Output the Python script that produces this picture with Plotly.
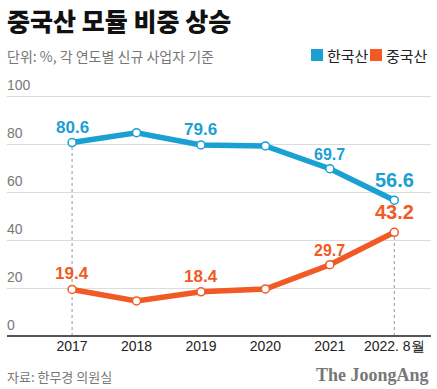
import plotly.graph_objects as go

years = ["2017", "2018", "2019", "2020", "2021", "2022. 8월"]
korea = [80.6, 84.7, 79.6, 79.2, 69.7, 56.6]
china = [19.4, 14.6, 18.4, 19.6, 29.7, 43.2]
korea_labels = ["80.6", "", "79.6", "", "69.7", "56.6"]
china_labels = ["19.4", "", "18.4", "", "29.7", "43.2"]
label_sizes = [17, 0, 17, 0, 16, 20]
yticks = [0, 20, 40, 60, 80, 100]

BLUE = "#1aa0d3"
ORANGE = "#f15a24"
KFONT = "Noto Sans CJK KR"
NFONT = "Liberation Sans, Arial, sans-serif"

xs = list(range(len(years)))

W, H = 437, 389
# plot area x 7..431, y 95..336
L, R, T, B = 7, 6, 95, 53
pw, ph = W - L - R, H - T - B
def ax(xp):
    return (xp - L) / pw
def ay(yp):
    return (H - B - yp) / ph

fig = go.Figure()
for vals, col, name in [(korea, BLUE, "한국산"), (china, ORANGE, "중국산")]:
    fig.add_trace(go.Scatter(
        x=xs, y=vals, mode="lines+markers", name=name,
        line=dict(color=col, width=5.5),
        marker=dict(size=8, color="white", line=dict(color=col, width=1.5)),
        cliponaxis=False, showlegend=False, hoverinfo="skip"))

# value labels
for vals, labels, col in [(korea, korea_labels, BLUE), (china, china_labels, ORANGE)]:
    for i, (v, t) in enumerate(zip(vals, labels)):
        if t:
            fig.add_annotation(x=xs[i], y=v, text=t, showarrow=False,
                               yanchor="bottom", yshift=4 if label_sizes[i] < 20 else 7,
                               font=dict(family=NFONT, size=label_sizes[i], color=col, weight="bold"))

# y tick labels above gridlines
for t in yticks:
    fig.add_annotation(x=0, xref="paper", y=t, yref="y", text=str(t), showarrow=False,
                       xanchor="left", yanchor="bottom", yshift=1, xshift=-2,
                       font=dict(family=NFONT, size=14, color="#777"))

# dotted guide lines
fig.add_shape(type="line", x0=xs[0], x1=xs[0], y0=0, y1=korea[0], xref="x", yref="y",
              line=dict(color="#999", width=1, dash="dot"), layer="below")
fig.add_shape(type="line", x0=xs[-1], x1=xs[-1], y0=0, y1=china[-1], xref="x", yref="y",
              line=dict(color="#999", width=1, dash="dot"), layer="below")

fig.add_annotation(text="중국산 모듈 비중 상승", x=ax(5), y=ay(20), xref="paper", yref="paper",
                   xanchor="left", yanchor="middle", showarrow=False,
                   font=dict(family=KFONT, size=25, color="#111", weight=900))
fig.add_annotation(text="단위: %, 각 연도별 신규 사업자 기준", x=ax(5), y=ay(56), xref="paper", yref="paper",
                   xanchor="left", yanchor="middle", showarrow=False,
                   font=dict(family=KFONT, size=14, color="#777"))

# legend
for x0, col, name in [(311, BLUE, "한국산"), (370, ORANGE, "중국산")]:
    fig.add_shape(type="rect", xref="paper", yref="paper",
                  x0=ax(x0), x1=ax(x0 + 12), y0=ay(61), y1=ay(49),
                  fillcolor=col, line=dict(width=0))
    fig.add_annotation(text=name, x=ax(x0 + 14), y=ay(55.5), xref="paper", yref="paper",
                       xanchor="left", yanchor="middle", showarrow=False,
                       font=dict(family=KFONT, size=15, color="#222"))

# footer
fig.add_annotation(text="자료: 한무경 의원실", x=ax(5), y=ay(376), xref="paper", yref="paper",
                   xanchor="left", yanchor="middle", showarrow=False,
                   font=dict(family=KFONT, size=13, color="#777"))
fig.add_annotation(text="<b>The JoongAng</b>", x=ax(431), y=ay(375), xref="paper", yref="paper",
                   xanchor="right", yanchor="middle", showarrow=False,
                   font=dict(family="Liberation Serif, DejaVu Serif, serif", size=18, color="#777"))

fig.update_layout(
    width=W, height=H,
    margin=dict(l=L, r=R, t=T, b=B),
    paper_bgcolor="white", plot_bgcolor="white",
    xaxis=dict(range=[-1.01, 5.57], tickvals=xs, ticktext=years, showgrid=False,
               zeroline=False, showline=False, ticks="",
               tickfont=dict(family=NFONT, size=14, color="#222"), fixedrange=True),
    yaxis=dict(range=[0, 100.42], tickvals=yticks, showgrid=True, gridcolor="#dcdcdc", gridwidth=1,
               zeroline=True, zerolinecolor="#555", zerolinewidth=2,
               showticklabels=False, ticks="", fixedrange=True),
    showlegend=False,
)

fig.write_html("out.html", config={"displayModeBar": False},
               post_script="document.body.style.margin='0';document.body.style.overflow='hidden';")
